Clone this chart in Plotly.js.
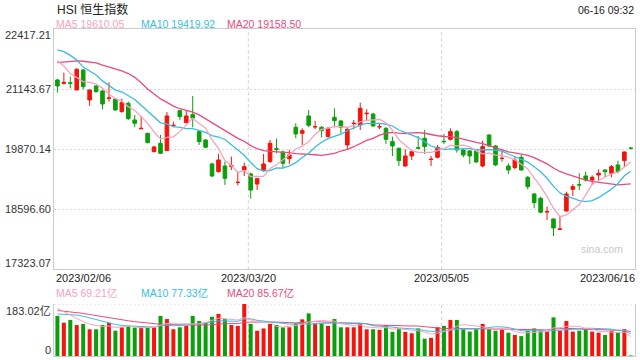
<!DOCTYPE html>
<html><head><meta charset="utf-8">
<script src="https://cdn.plot.ly/plotly-3.0.1.min.js"></script>
<style>html,body{margin:0;padding:0;background:#fff}#chart{width:640px;height:360px}</style>
</head><body><div id="chart"></div>
<script>
const dates = ['2023/02/06','2023/02/07','2023/02/08','2023/02/09','2023/02/10','2023/02/13','2023/02/14','2023/02/15','2023/02/16','2023/02/17',
'2023/02/20','2023/02/21','2023/02/22','2023/02/23','2023/02/24','2023/02/27','2023/02/28','2023/03/01','2023/03/02','2023/03/03',
'2023/03/06','2023/03/07','2023/03/08','2023/03/09','2023/03/10','2023/03/13','2023/03/14','2023/03/15','2023/03/16','2023/03/17',
'2023/03/20','2023/03/21','2023/03/22','2023/03/23','2023/03/24','2023/03/27','2023/03/28','2023/03/29','2023/03/30','2023/03/31',
'2023/04/03','2023/04/04','2023/04/06','2023/04/11','2023/04/12','2023/04/13','2023/04/14','2023/04/17','2023/04/18','2023/04/19',
'2023/04/20','2023/04/21','2023/04/24','2023/04/25','2023/04/26','2023/04/27','2023/04/28','2023/05/02','2023/05/03','2023/05/04',
'2023/05/05','2023/05/08','2023/05/09','2023/05/10','2023/05/11','2023/05/12','2023/05/15','2023/05/16','2023/05/17','2023/05/18',
'2023/05/19','2023/05/22','2023/05/23','2023/05/24','2023/05/25','2023/05/29','2023/05/30','2023/05/31','2023/06/01','2023/06/02',
'2023/06/05','2023/06/06','2023/06/07','2023/06/08','2023/06/09','2023/06/12','2023/06/13','2023/06/14','2023/06/15','2023/06/16'];
const openP = [21342,21270,21283,21129,21554,20917,21214,21108,20950,20938,
20670,20847,20493,20305,20210,19820,19997,19842,20375,20691,
20436,20606,20245,20068,19559,19396,19516,19510,19165,19431,
19347,19134,19417,19608,19884,19813,19672,20337,20210,20578,
20345,20337,20139,20549,20471,19962,20415,20386,20625,20620,
20345,20316,20033,19891,19516,19729,19905,20104,19653,19700,
20040,20082,20245,19856,19835,19835,19516,20174,19941,19675,
19516,19481,19700,19276,18922,18830,18540,18391,18170,18561,
19021,19117,19304,19219,19325,19431,19361,19538,19630,19898];
const highP = [21363,21500,21412,21590,21568,21143,21228,21130,21292,20952,
20945,20882,20599,20577,20217,19941,20174,20662,20457,20705,
20691,21002,20266,20083,19587,19771,19608,19714,19375,19587,
19375,19261,19771,20068,20096,19841,19856,20422,20316,20705,
20471,20365,20337,20740,20492,20316,20493,20861,20719,20634,
20422,20337,20139,19905,19870,19856,20153,20280,19729,19962,
20196,20316,20280,19870,19856,19856,20054,20182,19962,19856,
19573,19700,19750,19304,18936,18865,18653,18405,18455,18971,
19134,19361,19396,19318,19445,19445,19538,19629,19821,19910];
const lowP = [21073,21240,21165,21129,21143,20790,21073,20719,20880,20691,
20649,20493,20337,20298,19997,19806,19771,19842,20337,20493,
20422,20337,19962,19892,19276,19375,19113,19431,19106,19304,
18823,19007,19396,19587,19785,19467,19559,20103,19962,20337,
20294,20125,20125,20337,20210,19870,20295,20280,20493,20351,
20295,19983,19728,19516,19502,19644,19870,19771,19516,19679,
19983,20054,19799,19700,19559,19587,19488,19913,19516,19608,
19347,19445,19417,19021,18618,18512,18370,18030,18170,18547,
18879,19007,19184,19113,19219,19276,19276,19361,19502,19884];
const closeP = [21214,21290,21270,21568,21200,21129,21094,20832,20960,20705,
20861,20521,20422,20315,20012,19920,19785,20578,20380,20563,
20578,20535,20033,19913,19304,19644,19254,19520,19170,19502,
19007,19247,19559,19997,19870,19573,19750,20196,20266,20380,
20351,20266,20316,20478,20337,20295,20422,20740,20634,20365,
20351,20082,19941,19630,19729,19821,19895,19927,19660,19912,
20033,20245,19856,19750,19729,19601,19927,19941,19538,19679,
19431,19644,19431,19078,18738,18533,18547,18200,18178,18922,
19078,19113,19219,19276,19361,19396,19502,19396,19814,19891];
const ma5 = [21748,21638,21478,21400,21308,21291,21252,21165,21043,20944,
20890,20776,20694,20565,20426,20238,20091,20122,20135,20245,
20377,20527,20418,20324,20073,19886,19630,19527,19378,19418,
19291,19289,19297,19462,19536,19649,19750,19877,19931,20033,
20189,20292,20316,20358,20350,20338,20370,20454,20486,20491,
20502,20434,20275,20074,19947,19841,19803,19800,19806,19843,
19885,19955,19941,19959,19923,19836,19773,19790,19747,19737,
19703,19647,19545,19453,19264,19085,18865,18619,18439,18476,
18585,18698,18902,19122,19209,19273,19351,19386,19494,19600];
const ma10 = [21978,21942,21864,21764,21615,21521,21446,21322,21222,21126,
21091,21014,20929,20804,20685,20564,20433,20408,20350,20336,
20307,20309,20270,20230,20159,20131,20078,19972,19851,19745,
19588,19459,19412,19420,19477,19470,19520,19587,19697,19785,
19919,20021,20097,20145,20191,20264,20331,20385,20422,20420,
20420,20402,20365,20280,20219,20172,20119,20038,19940,19895,
19863,19879,19871,19883,19883,19861,19864,19865,19853,19830,
19770,19710,19667,19600,19501,19394,19256,19082,18946,18870,
18835,18782,18761,18780,18843,18929,19025,19144,19308,19405];
const ma20 = [21711,21723,21737,21746,21739,21724,21703,21658,21619,21575,
21534,21478,21397,21284,21150,21043,20940,20865,20786,20731,
20699,20661,20600,20517,20422,20348,20256,20190,20101,20041,
19948,19884,19841,19825,19818,19801,19799,19780,19774,19765,
19754,19740,19754,19783,19834,19867,19925,19986,20059,20102,
20170,20211,20231,20212,20205,20218,20225,20211,20181,20158,
20142,20141,20118,20081,20051,20016,19991,19951,19897,19862,
19816,19794,19769,19741,19692,19627,19560,19474,19400,19350,
19302,19246,19214,19190,19172,19162,19140,19113,19127,19137];
// volume, 亿
const volume = [141,117,127,109,113,94,94,109,117,89,
101,106,100,100,100,101,141,130,94,101,
106,141,123,117,138,148,130,109,106,183.02,
113,89,97,113,109,101,101,115,129,150,
115,115,106,130,101,101,101,112,94,94,
92,109,85,97,85,80,97,61,64,101,
106,127,127,94,86,94,113,94,89,94,
82,74,70,89,97,89,86,136,89,123,
86,89,94,86,82,74,89,82,94,2];
const vma5 = [168,155,145,132,121.4,112.0,107.4,103.8,105.4,100.6,
102.0,104.4,102.6,99.2,101.4,101.4,108.4,114.4,113.2,113.4,
114.4,114.4,113.0,117.6,125.0,133.4,131.2,128.4,126.2,135.2,
128.2,120.0,117.6,119.0,104.2,101.8,104.2,107.8,111.0,119.2,
122.0,124.8,123.0,123.2,113.4,110.6,107.8,109.0,101.8,100.4,
98.6,100.2,94.8,95.4,93.6,91.2,88.8,84.0,77.4,80.6,
85.8,91.8,105.0,111.0,108.0,105.6,102.8,96.2,95.2,96.8,
94.4,86.6,81.8,81.8,82.4,83.8,86.2,99.4,99.4,104.6,
104.0,104.6,96.2,95.6,87.4,85.0,85.0,82.6,84.2,68.2];
const vma10 = [148,147,146,144,140,134,128,122,116,111.0,
107.0,105.9,103.2,102.3,101.0,101.7,106.4,108.5,106.2,107.4,
107.9,111.4,113.7,115.4,119.2,123.9,122.8,120.7,121.9,130.1,
130.8,125.6,123.0,122.6,119.7,115.0,112.1,112.7,115.0,111.7,
111.9,114.5,115.4,117.1,116.3,116.3,116.3,116.0,112.5,106.9,
104.6,104.0,101.9,98.6,97.0,94.9,94.5,89.4,86.4,87.1,
88.5,90.3,94.5,94.2,94.3,95.7,97.3,100.6,103.1,102.4,
100.0,94.7,89.0,88.5,89.6,89.1,86.4,90.6,90.6,93.5,
93.9,95.4,97.8,97.5,96.0,94.5,94.8,89.4,89.9,77.8];
const vma20 = [160,158,156,153,150,146,142,138,134,130,
127,124,121,118,116,114,112,111,110,109.2,
107.45,108.65,108.45,108.85,110.1,112.8,114.6,114.6,114.05,118.75,
119.35,118.5,118.35,119.0,119.45,119.45,117.45,116.7,118.45,120.9,
121.35,120.05,119.2,119.85,118.0,115.65,114.2,114.35,113.75,109.3,
108.25,109.25,108.65,107.85,106.65,105.6,105.4,102.7,99.45,97.0,
96.55,97.15,98.2,96.4,95.65,95.3,95.9,95.0,94.75,94.75,
94.25,92.5,91.75,91.35,91.95,92.4,91.85,95.6,96.85,97.95,
96.95,95.05,93.4,93.0,92.8,91.8,90.6,90.0,90.25,85.65];
const priceTicks = [22417.21, 21143.67, 19870.14, 18596.60, 17323.07];
const priceTickText = ['22417.21','21143.67','19870.14','18596.60','17323.07'];
const volTicks = [183.02, 0];
const volTickText = ['183.02亿','0'];
const dateLabels = ['2023/02/06','2023/03/20','2023/05/05','2023/06/16'];
const priceLegend = ['MA5 19610.05','MA10 19419.92','MA20 19158.50'];
const volLegend = ['MA5 69.21亿','MA10 77.33亿','MA20 85.67亿'];
const chartTitle = 'HSI 恒生指数';
const stamp = '06-16 09:32';

const W = 640, H = 360;
const px = x => x / W, py = y => 1 - y / H;
const FONT = "'Liberation Sans', Arial, 'Noto Sans CJK SC', sans-serif";
const RED = '#f1150d', GREEN = '#0b9f0b';
const C5 = '#f7a3bd', C10 = '#37bfe0', C20 = '#ea4a7e';
const GRID = '#d9d9d9', FRAME = '#cccccc';
const maColors = [C5, C10, C20];

const barColors = closeP.map((c, i) => c >= openP[i] ? RED : GREEN);
const line = (y, color, w, xa, ya) => ({type:'scatter', mode:'lines', x:dates, y, xaxis:xa, yaxis:ya,
  line:{color, width:w}, hoverinfo:'skip', showlegend:false});

const data = [
  {type:'bar', x:dates, y:volume, xaxis:'x2', yaxis:'y2', width:0.62,
   marker:{color:barColors, line:{width:0}}, hoverinfo:'skip', showlegend:false},
  {type:'candlestick', x:dates, open:openP, high:highP, low:lowP, close:closeP,
   xaxis:'x', yaxis:'y', whiskerwidth:0,
   increasing:{line:{color:RED, width:1}, fillcolor:RED},
   decreasing:{line:{color:GREEN, width:1}, fillcolor:GREEN},
   hoverinfo:'skip', showlegend:false},
  line(ma20, C20, 1.3, 'x', 'y'), line(ma10, C10, 1.3, 'x', 'y'), line(ma5, C5, 1.3, 'x', 'y'),
  line(vma20, C20, 1, 'x2', 'y2'), line(vma10, C10, 1, 'x2', 'y2'), line(vma5, C5, 1, 'x2', 'y2')
];

const ann = [];
const txt = (text, x, y, xanchor, color, size, extra) => Object.assign({
  text, x, y, xref:'paper', yref:'paper', xanchor, yanchor:'middle', showarrow:false,
  borderpad:0, font:{family:FONT, size, color}}, extra || {});

priceTicks.forEach((v, i) => {
  const shift = i === 0 ? -5.7 : (i === priceTicks.length - 1 ? 6 : 0);
  ann.push(txt(priceTickText[i], px(51.5), v, 'right', '#333', 11, {yref:'y', yshift:shift}));
});
volTicks.forEach((v, i) => {
  const shift = i === 0 ? -6.7 : 6;
  ann.push(txt(volTickText[i], px(51.5), v, 'right', '#333', 11, {yref:'y2', yshift:shift}));
});
dateLabels.forEach((d, i) => {
  const idx = dates.indexOf(d);
  if (i === 0) ann.push(txt(d, px(54.5), py(278.3), 'left', '#222', 11));
  else if (i === dateLabels.length - 1) ann.push(txt(d, px(635.5), py(278.3), 'right', '#222', 11));
  else ann.push(txt(d, idx - 0.37, py(278.3), 'center', '#222', 11, {xref:'x'}));
});
const legX = [55, 140, 225.7];
priceLegend.forEach((t, i) => ann.push(txt(t, px(legX[i]), py(24), 'left', maColors[i], 10.5)));
volLegend.forEach((t, i) => ann.push(txt(t, px(legX[i]), py(293.3), 'left', maColors[i], 10.5)));
ann.push(txt(chartTitle, px(55.5), py(9.5), 'left', '#222', 12));
ann.push(txt(stamp, px(634.5), py(10), 'right', '#222', 10.5));
ann.push(txt('sina.com', px(623.5), py(249), 'right', '#c9c9c9', 10.5));

const shapes = [];
dateLabels.slice(1, -1).forEach(d => {
  const idx = dates.indexOf(d) - 0.37;
  ['y domain', 'y2 domain'].forEach((yr, k) => shapes.push({type:'line', layer:'below',
    xref: k ? 'x2' : 'x', yref:yr, x0:idx, x1:idx, y0:0, y1:1,
    line:{color:'#cfcfcf', width:1, dash:'3px,3px'}}));
});
shapes.push({type:'line', layer:'below', xref:'x2 domain', yref:'y2', x0:0, x1:1,
  y0:volTicks[0], y1:volTicks[0], line:{color:GRID, width:1, dash:'2px,2px'}});

const xCommon = {type:'category', range:[-0.53, 89.65], domain:[px(54), px(635)],
  showticklabels:false, ticks:'', showgrid:false, zeroline:false, fixedrange:true};
const layout = {
  width:W, height:H, margin:{l:0, r:0, t:0, b:0}, paper_bgcolor:'#fff', plot_bgcolor:'#fff',
  showlegend:false, boxgap:0.2, bargap:0.38, font:{family:FONT},
  xaxis: Object.assign({}, xCommon, {anchor:'y', showline:true, mirror:true, linecolor:FRAME, linewidth:1,
    rangeslider:{visible:false}}),
  yaxis: {domain:[py(269.3), py(29.3)], range:[priceTicks[4], priceTicks[0]], anchor:'x',
    tickvals:priceTicks.slice(1, 4), showticklabels:false, ticks:'', showgrid:true, gridcolor:GRID,
    griddash:'2px,2px', gridwidth:1, showline:true, mirror:true, linecolor:FRAME, zeroline:false, fixedrange:true},
  xaxis2: Object.assign({}, xCommon, {anchor:'y2', showline:true, linecolor:FRAME, linewidth:1}),
  yaxis2: {domain:[py(356), py(304)], range:[0, volTicks[0]], anchor:'x2', showticklabels:false, ticks:'',
    showgrid:false, showline:true, mirror:true, linecolor:FRAME, zeroline:false, fixedrange:true},
  annotations: ann, shapes: shapes
};
Plotly.newPlot('chart', data, layout, {staticPlot:true, displayModeBar:false});
</script></body></html>
